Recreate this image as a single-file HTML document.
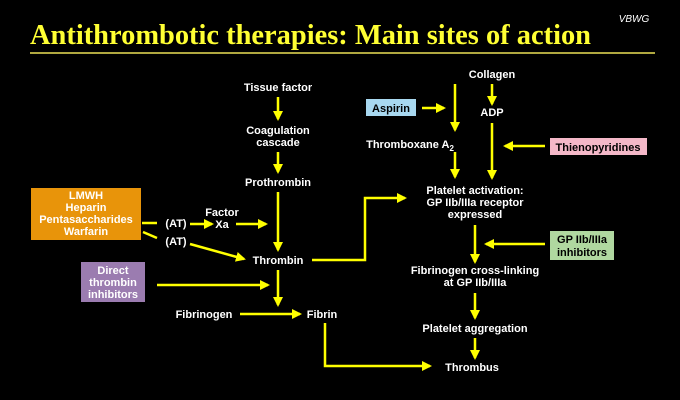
<!DOCTYPE html>
<html><head><meta charset="utf-8"><style>
html,body{margin:0;padding:0;background:#000;}
svg{display:block;}
text{font-family:"Liberation Sans",sans-serif;font-weight:bold;font-size:11px;fill:#fff;text-anchor:middle;}
</style></head><body>
<svg width="680" height="400" viewBox="0 0 680 400">
<defs><marker id="ah" markerWidth="4" markerHeight="4" refX="3.2" refY="2" orient="auto" markerUnits="strokeWidth"><path d="M0,0 L4,2 L0,4 Z" fill="#ffff00"/></marker></defs>
<rect width="680" height="400" fill="#000"/>
<text x="634" y="22" style="font-style:italic;font-weight:normal;font-size:10px">VBWG</text>
<text x="30" y="44" textLength="561" lengthAdjust="spacingAndGlyphs" style="font-family:'Liberation Serif',serif;font-size:28.5px;fill:#ffff33;text-anchor:start">Antithrombotic therapies: Main sites of action</text>
<line x1="30" y1="53" x2="655" y2="53" stroke="#b0a840" stroke-width="2"/>
<g stroke="#ffff00" stroke-width="2.5" fill="none">
<line x1="278" y1="97" x2="278" y2="119" marker-end="url(#ah)"/>
<line x1="278" y1="152" x2="278" y2="172" marker-end="url(#ah)"/>
<line x1="278" y1="192" x2="278" y2="250" marker-end="url(#ah)"/>
<line x1="278" y1="270" x2="278" y2="305" marker-end="url(#ah)"/>
<line x1="240" y1="314" x2="300" y2="314" marker-end="url(#ah)"/>
<polyline points="325,323 325,366 430,366" marker-end="url(#ah)"/>
<polyline points="312,260 365,260 365,198 405,198" marker-end="url(#ah)"/>
<line x1="142" y1="223" x2="157" y2="223"/>
<line x1="190" y1="224" x2="212" y2="224" marker-end="url(#ah)"/>
<line x1="236" y1="224" x2="266" y2="224" marker-end="url(#ah)"/>
<line x1="143" y1="232" x2="157" y2="238"/>
<line x1="190" y1="244" x2="244" y2="259" marker-end="url(#ah)"/>
<line x1="157" y1="285" x2="268" y2="285" marker-end="url(#ah)"/>
<line x1="422" y1="108" x2="444" y2="108" marker-end="url(#ah)"/>
<line x1="455" y1="84" x2="455" y2="130" marker-end="url(#ah)"/>
<line x1="492" y1="84" x2="492" y2="104" marker-end="url(#ah)"/>
<line x1="455" y1="152" x2="455" y2="177" marker-end="url(#ah)"/>
<line x1="492" y1="123" x2="492" y2="178" marker-end="url(#ah)"/>
<line x1="545" y1="146" x2="505" y2="146" marker-end="url(#ah)"/>
<line x1="475" y1="225" x2="475" y2="262" marker-end="url(#ah)"/>
<line x1="545" y1="244" x2="486" y2="244" marker-end="url(#ah)"/>
<line x1="475" y1="293" x2="475" y2="318" marker-end="url(#ah)"/>
<line x1="475" y1="338" x2="475" y2="358" marker-end="url(#ah)"/>
</g>
<rect x="31" y="188" width="110" height="52" fill="#e8940a"/>
<text x="86" y="199">LMWH</text><text x="86" y="211">Heparin</text><text x="86" y="223">Pentasaccharides</text><text x="86" y="235">Warfarin</text>
<rect x="81" y="262" width="64" height="40" fill="#9b7cb0"/>
<text x="113" y="274">Direct</text><text x="113" y="286">thrombin</text><text x="113" y="298">inhibitors</text>
<rect x="366" y="99" width="50" height="17" fill="#a8d8f0"/>
<text x="391" y="112" style="fill:#000">Aspirin</text>
<rect x="550" y="138" width="97" height="17" fill="#f4b8c8"/>
<text x="598" y="151" style="fill:#000">Thienopyridines</text>
<rect x="550" y="231" width="64" height="29" fill="#b0d8a0"/>
<text x="582" y="243" style="fill:#000">GP IIb/IIIa</text><text x="582" y="256" style="fill:#000">inhibitors</text>
<g>
<text x="278" y="91">Tissue factor</text>
<text x="278" y="134">Coagulation</text><text x="278" y="146">cascade</text>
<text x="278" y="186">Prothrombin</text>
<text x="278" y="264">Thrombin</text>
<text x="204" y="318">Fibrinogen</text>
<text x="322" y="318">Fibrin</text>
<text x="176" y="227">(AT)</text><text x="176" y="245">(AT)</text>
<text x="222" y="216">Factor</text><text x="222" y="228">Xa</text>
<text x="492" y="78">Collagen</text>
<text x="492" y="116">ADP</text>
<text x="410" y="148">Thromboxane A<tspan font-size="8" dy="3">2</tspan></text>
<text x="475" y="194">Platelet activation:</text><text x="475" y="206">GP IIb/IIIa receptor</text><text x="475" y="218">expressed</text>
<text x="475" y="274">Fibrinogen cross-linking</text><text x="475" y="286">at GP IIb/IIIa</text>
<text x="475" y="332">Platelet aggregation</text>
<text x="472" y="371">Thrombus</text>
</g>
</svg>
</body></html>
